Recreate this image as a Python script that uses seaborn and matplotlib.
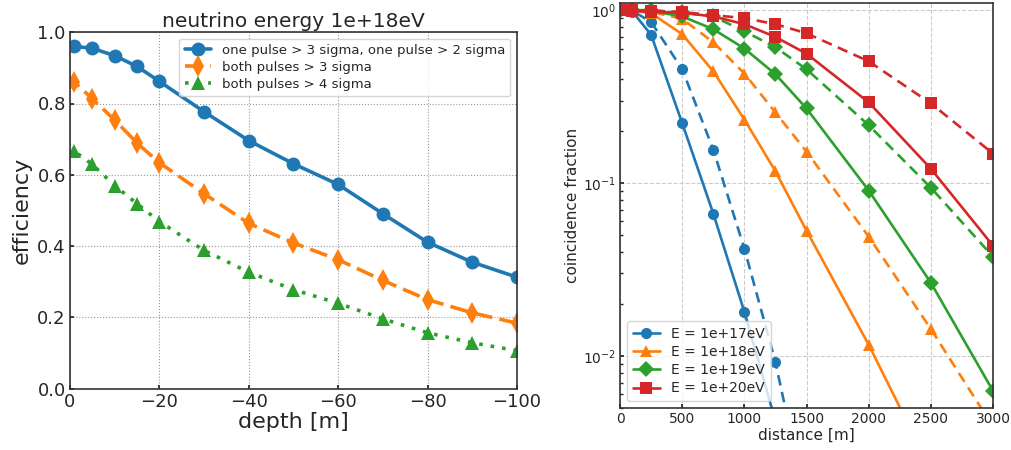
import numpy as np
import pandas as pd
import seaborn as sns
import matplotlib
matplotlib.use("Agg")
import matplotlib.pyplot as plt

sns.set_theme(style="ticks", rc={"xtick.direction": "in", "ytick.direction": "in",
                                 "axes.edgecolor": "0.2", "axes.linewidth": 1.2})
plt.rcParams['font.family'] = ['DejaVu Sans']

# left panel: efficiency vs depth
depth = [-1, -5, -10, -15, -20, -30, -40, -50, -60, -70, -80, -90, -100]
eff_3_2 = [0.960, 0.955, 0.934, 0.904, 0.862, 0.777, 0.696, 0.631, 0.573, 0.491, 0.411, 0.355, 0.313]
eff_3_3 = [0.860, 0.813, 0.754, 0.689, 0.634, 0.547, 0.464, 0.409, 0.362, 0.304, 0.250, 0.213, 0.184]
eff_4_4 = [0.666, 0.629, 0.570, 0.519, 0.469, 0.388, 0.327, 0.278, 0.240, 0.196, 0.157, 0.129, 0.107]
left_labels = ["one pulse > 3 sigma, one pulse > 2 sigma",
               "both pulses > 3 sigma", "both pulses > 4 sigma"]

# right panel: coincidence fraction vs distance
distance = [0, 100, 250, 500, 750, 1000, 1250, 1500, 2000, 2500, 3000]
energies = ["1e+17", "1e+18", "1e+19", "1e+20"]
frac_solid = {
    "1e+17": [1.0, 0.98, 0.72, 0.222, 0.0666, 0.018, 0.0042, 0.0008, 0.0001, 0.00002, 0.000005],
    "1e+18": [1.0, 0.995, 0.96, 0.726, 0.443, 0.233, 0.117, 0.053, 0.0116, 0.0022, 0.0004],
    "1e+19": [1.0, 1.0, 0.99, 0.92, 0.776, 0.60, 0.426, 0.27, 0.0905, 0.0265, 0.00627],
    "1e+20": [1.0, 0.99, 0.98, 0.965, 0.92, 0.83, 0.70, 0.56, 0.293, 0.121, 0.0434],
}
frac_dashed = {
    "1e+17": [1.0, 0.99, 0.855, 0.455, 0.156, 0.0417, 0.0092, 0.00134, 0.0001, 0.00002, 0.000005],
    "1e+18": [1.0, 1.0, 0.98, 0.89, 0.652, 0.43, 0.256, 0.152, 0.049, 0.0143, 0.0039],
    "1e+19": [1.0, 1.0, 1.0, 0.97, 0.92, 0.755, 0.61, 0.455, 0.216, 0.094, 0.0375],
    "1e+20": [1.0, 1.0, 0.99, 0.975, 0.935, 0.90, 0.83, 0.735, 0.506, 0.289, 0.148],
}

colors = sns.color_palette("tab10")
fig = plt.figure(figsize=(10.11, 4.5), dpi=100)
ax1 = fig.add_axes([0.0692, 0.136, 0.4421, 0.7925])
ax2 = fig.add_axes([0.6133, 0.0935, 0.3689, 0.8998])

left_df = pd.DataFrame({"depth": depth * 3,
                        "efficiency": eff_3_2 + eff_3_3 + eff_4_4,
                        "cut": sum([[l] * len(depth) for l in left_labels], [])})
left_styles = [("-", "o", 10), ((0, (5, 2)), "d", 11), ((0, (1, 2.2)), "^", 10)]
for i, lab in enumerate(left_labels):
    ls, mk, ms = left_styles[i]
    sns.lineplot(data=left_df[left_df.cut == lab], x="depth", y="efficiency", ax=ax1,
                 color=colors[i], linestyle=ls, marker=mk, markersize=ms,
                 markeredgewidth=0, linewidth=2.6, label=lab)
ax1.set_xlim(0, -100)
ax1.set_ylim(0, 1)
ax1.grid(True, linestyle=":", color="0.6", linewidth=0.8)
ax1.set_title("neutrino energy 1e+18eV", fontsize=14.5, pad=4)
ax1.set_xlabel("depth [m]", fontsize=16, labelpad=1)
ax1.set_ylabel("efficiency", fontsize=16, labelpad=4)
ax1.tick_params(labelsize=13, length=3, pad=3)
ax1.legend(loc="upper right", fontsize=9.5, handlelength=2.0, borderpad=0.4,
           labelspacing=0.3, frameon=True)

markers = ["o", "^", "D", "s"]
msizes = [8, 9, 8, 8]
for i, e in enumerate(energies):
    d = pd.DataFrame({"distance": distance, "solid": frac_solid[e], "dashed": frac_dashed[e]})
    sns.lineplot(data=d, x="distance", y="solid", ax=ax2, color=colors[i], marker=markers[i],
                 markersize=msizes[i], markeredgewidth=0, linewidth=1.9, label=f"E = {e}eV")
    sns.lineplot(data=d, x="distance", y="dashed", ax=ax2, color=colors[i], marker=markers[i],
                 markersize=msizes[i], markeredgewidth=0, linewidth=1.9,
                 linestyle=(0, (4, 2.5)), legend=False)
ax2.set_yscale("log")
ax2.set_xlim(0, 3000)
ax2.set_ylim(0.005, 1.1)
ax2.grid(True, which="major", linestyle="--", color="0.8", linewidth=0.8)
ax2.set_xlabel("distance [m]", fontsize=11, labelpad=1)
ax2.set_ylabel("coincidence fraction", fontsize=11, labelpad=2)
ax2.tick_params(labelsize=10, length=3, pad=3)
ax2.tick_params(which="minor", direction="in", length=2.5, left=True)
ax2.legend(loc="lower left", fontsize=10, handlelength=2.0, borderpad=0.4,
           labelspacing=0.3, frameon=True)

fig.savefig("out.png", dpi=100)
